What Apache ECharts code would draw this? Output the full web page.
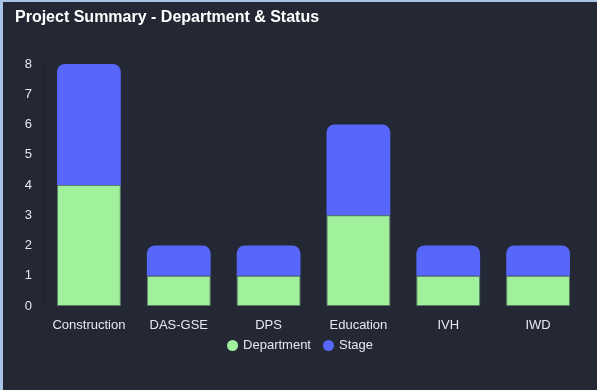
<!DOCTYPE html>
<html><head><meta charset="utf-8">
<script src="https://cdn.jsdelivr.net/npm/echarts@6/dist/echarts.min.js"></script>
<style>
html,body{margin:0;padding:0;background:#a9c4e4;width:597px;height:390px;overflow:hidden;}
#c{position:absolute;left:3px;top:2px;width:594px;height:388px;background:#232834;}
</style></head><body>
<div id="c"></div>
<script>
const categories = ["Construction","DAS-GSE","DPS","Education","IVH","IWD"];
const departmentValues = [4,1,1,3,1,1];
const stageValues = [4,1,1,3,1,1];
const yTicks = [0,1,2,3,4,5,6,7,8];

const FONT = 'Liberation Sans, Arial, sans-serif';
const chart = echarts.init(document.getElementById('c'));
chart.setOption({
  backgroundColor: '#232834',
  animation: false,
  title: {
    text: 'Project Summary - Department & Status',
    left: 7, top: 3,
    textStyle: {color: '#ffffff', fontSize: 16, fontWeight: 'bold', fontFamily: FONT}
  },
  legend: {
    data: ['Department','Stage'],
    bottom: 33,
    left: 'center',
    icon: 'circle',
    itemWidth: 11, itemHeight: 11, itemGap: 12,
    itemStyle: {borderWidth: 0},
    textStyle: {color: '#e6e8ee', fontSize: 13, fontFamily: FONT}
  },
  grid: {left: 41, top: 62, width: 539, height: 242},
  xAxis: {
    type: 'category',
    data: categories,
    axisLine: {show: false},
    axisTick: {show: false},
    axisLabel: {color: '#e6e8ee', fontSize: 13, margin: 13, interval: 0, fontFamily: FONT}
  },
  yAxis: {
    type: 'value',
    min: yTicks[0], max: yTicks[yTicks.length-1], interval: 1,
    splitLine: {show: false},
    axisLine: {show: true, lineStyle: {color: '#1a1e27', width: 1}},
    axisTick: {show: false},
    axisLabel: {color: '#e6e8ee', fontSize: 13, margin: 12, fontFamily: FONT}
  },
  series: [
    {
      name: 'Department', type: 'bar', stack: 'total',
      data: departmentValues,
      barWidth: '71%',
      itemStyle: {color: '#a0f09c', borderColor: '#5b7d64', borderWidth: 1}
    },
    {
      name: 'Stage', type: 'bar', stack: 'total',
      data: stageValues,
      barWidth: '71%',
      itemStyle: {color: '#5766fb', borderRadius: [8,8,0,0]}
    }
  ]
});
</script>
</body></html>
